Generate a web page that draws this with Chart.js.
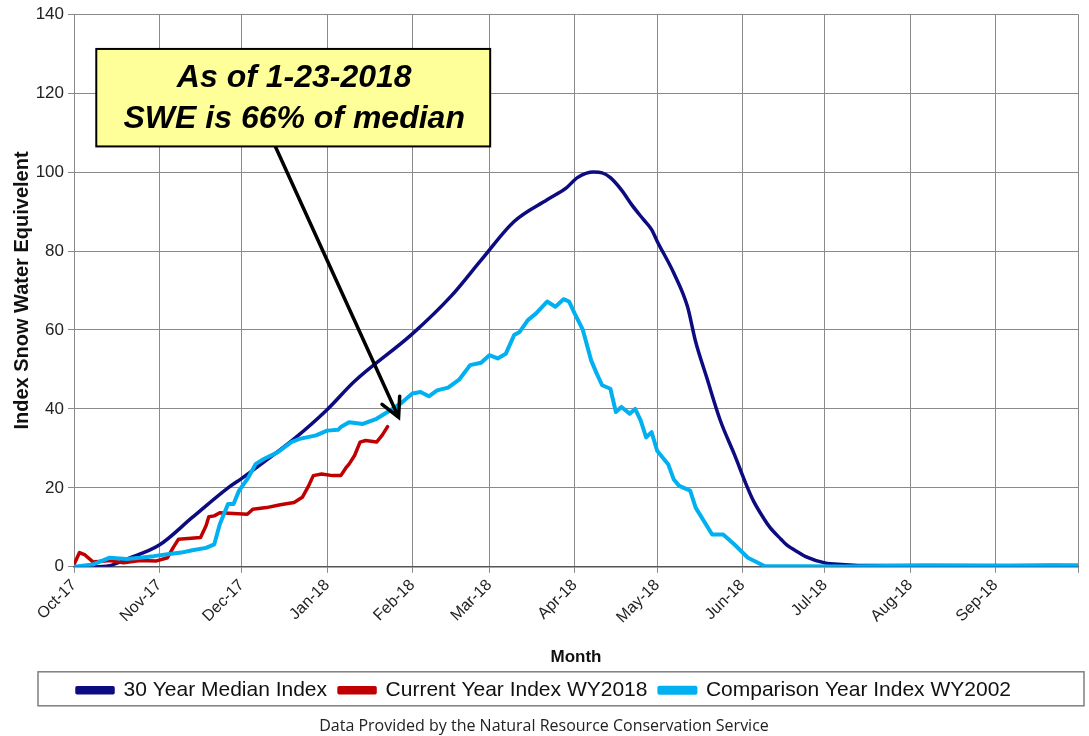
<!DOCTYPE html>
<html lang="en">
<head>
  <meta charset="UTF-8" />
  <title>Snow Water Equivalent Index</title>
  <script src="https://cdn.jsdelivr.net/npm/chart.js"></script>
  <style>
    html, body { margin: 0; padding: 0; background: #fff; }
    #wrap { width: 1089px; height: 736px; position: relative; }
  </style>
</head>
<body>
  <div id="wrap"><canvas id="sweChart"></canvas></div>

  <script>
    // month tick positions (days since Oct 1, 2017) and their labels
    const monthDays = [0, 31, 61, 92, 123, 151, 182, 212, 243, 273, 304, 335, 365];
    const monthLabels = ['Oct-17', 'Nov-17', 'Dec-17', 'Jan-18', 'Feb-18', 'Mar-18',
                         'Apr-18', 'May-18', 'Jun-18', 'Jul-18', 'Aug-18', 'Sep-18', ''];

    // 30 year median index
    const medianDay = [0, 7, 13, 19, 31, 43, 56, 61, 68, 80, 92, 102, 123, 137, 148, 160, 172, 179,
                       183, 189, 192, 195, 199, 203, 207, 210, 212, 218, 223, 226, 230, 235, 240,
                       245, 247, 251, 253, 257, 259, 264, 266, 273, 279, 290, 365];
    const medianSWE = [0, 0, 0.3, 1.9, 5.5, 12.5, 20, 22.4, 26, 32.4, 39.8, 47, 59, 68.5, 77.7, 87.5, 93, 96,
                       98.6, 100, 99.8, 98.6, 95.5, 91.5, 88, 85.4, 82.5, 74.5, 66, 57, 48, 37, 28.6,
                       19.8, 16.7, 12, 10, 7, 5.6, 3.4, 2.6, 1.0, 0.6, 0.3, 0.3];

    // current year WY2018 (through 1-23-2018)
    const currentDay = [0, 2, 4, 7, 13, 18, 24, 30, 34, 36, 38, 46, 48, 49, 51, 53, 58, 63, 65, 70,
                        75, 80, 83, 85, 87, 90, 94, 97, 99, 100, 102, 104, 106, 110, 112, 114];
    const currentSWE = [0.6, 3.6, 3, 1.2, 1.6, 1, 1.6, 1.5, 2.3, 4.8, 7, 7.4, 10.4, 12.7, 12.9, 13.7, 13.5, 13.3, 14.6, 15,
                        15.7, 16.3, 17.6, 20.1, 23.1, 23.5, 23.1, 23.1, 25.2, 26, 28.2, 31.6, 32, 31.6, 33.3, 35.5];

    // comparison year WY2002
    const compareDay = [0, 7, 13, 19, 24, 29, 34, 39, 43, 48, 51, 53, 56, 58, 60, 63, 66, 69, 74, 79,
                        82, 88, 92, 96, 97, 100, 105, 110, 114, 119, 123, 126, 129, 132, 136, 140, 144,
                        148, 151, 154, 157, 160, 162, 165, 168, 172, 175, 178, 180, 182, 185, 188, 190,
                        192, 195, 197, 199, 202, 204, 206, 208, 210, 212, 216, 218, 220, 224, 226, 232,
                        236, 240, 245, 251, 280, 310, 340, 355, 365];
    const compareSWE = [0, 0.6, 2.3, 2, 2.3, 2.7, 3.2, 3.6, 4.2, 4.8, 5.7, 10.8, 15.9, 15.9, 19.3, 22.2, 26, 27.3, 29, 31.6,
                        32.4, 33.3, 34.5, 34.7, 35.4, 36.6, 36.2, 37.5, 39.2, 41.5, 43.9, 44.3, 43.2, 44.7, 45.4, 47.4, 51.1,
                        51.7, 53.6, 52.8, 54, 58.7, 59.5, 62.5, 64.2, 67.2, 65.9, 67.8, 67.2, 64.2, 60, 52.3, 49,
                        46, 45.1, 39.2, 40.5, 38.8, 40, 37.1, 32.8, 34.1, 29.4, 26, 22.2, 20.5, 19.3, 15, 8.2,
                        8.2, 5.7, 2.3, 0.2, 0.1, 0.3, 0.2, 0.4, 0.3];

    const seriesNames = ['30 Year Median Index', 'Current Year Index WY2018', 'Comparison Year Index WY2002'];
    const seriesColors = ['#0c0c80', '#c00000', '#00b0f0'];

    const note = {
      lines: ['As of 1-23-2018', 'SWE is 66% of median'],
      box: { x0: 8.1, x1: 151.3, y0: 131.2, y1: 106.5 },
      arrowFrom: { x: 73.2, y: 106.5 },
      arrowTo: { x: 118, y: 37.9 }
    };

    const toPoints = (days, vals) => days.map((d, i) => ({ x: d, y: vals[i] }));
    const fam = '"Liberation Sans", Arial, sans-serif';

    const annotationPlugin = {
      id: 'noteBox',
      afterDatasetsDraw(chart) {
        const { ctx, scales: { x, y } } = chart;
        ctx.save();
        // arrow
        const ax = x.getPixelForValue(note.arrowFrom.x), ay = y.getPixelForValue(note.arrowFrom.y);
        const bx = x.getPixelForValue(note.arrowTo.x), by = y.getPixelForValue(note.arrowTo.y);
        ctx.strokeStyle = '#000';
        ctx.lineWidth = 3.5;
        ctx.lineCap = 'round';
        ctx.beginPath();
        ctx.moveTo(ax, ay);
        ctx.lineTo(bx, by);
        const ang = Math.atan2(by - ay, bx - ax);
        const head = 21;
        ctx.moveTo(bx - head * Math.cos(ang - 0.48), by - head * Math.sin(ang - 0.48));
        ctx.lineTo(bx, by);
        ctx.lineTo(bx - head * Math.cos(ang + 0.48), by - head * Math.sin(ang + 0.48));
        ctx.stroke();
        // box
        const l = x.getPixelForValue(note.box.x0), r = x.getPixelForValue(note.box.x1);
        const t = y.getPixelForValue(note.box.y0), b = y.getPixelForValue(note.box.y1);
        ctx.fillStyle = '#ffff99';
        ctx.fillRect(l, t, r - l, b - t);
        ctx.lineWidth = 2;
        ctx.strokeRect(l, t, r - l, b - t);
        ctx.fillStyle = '#000';
        ctx.font = 'italic bold 32px ' + fam;
        ctx.textAlign = 'center';
        ctx.textBaseline = 'middle';
        const cx = (l + r) / 2 + 1, h = b - t;
        ctx.fillText(note.lines[0], cx, t + h * 0.3);
        ctx.fillText(note.lines[1], cx, t + h * 0.72);
        ctx.restore();
      }
    };

    const legendFrame = {
      id: 'legendFrame',
      afterDraw(chart) {
        const lg = chart.legend;
        const ctx = chart.ctx;
        ctx.save();
        ctx.strokeStyle = '#7f7f7f';
        ctx.lineWidth = 1.5;
        ctx.strokeRect(38, lg.top + 4, 1046, lg.height - 9);
        ctx.restore();
      }
    };

    new Chart(document.getElementById('sweChart'), {
      type: 'line',
      data: {
        datasets: [
          { label: seriesNames[0], data: toPoints(medianDay, medianSWE), borderColor: seriesColors[0],
            backgroundColor: seriesColors[0], borderWidth: 3.5, cubicInterpolationMode: 'monotone', order: 2 },
          { label: seriesNames[1], data: toPoints(currentDay, currentSWE), borderColor: seriesColors[1],
            backgroundColor: seriesColors[1], borderWidth: 3.5, order: 1 },
          { label: seriesNames[2], data: toPoints(compareDay, compareSWE), borderColor: seriesColors[2],
            backgroundColor: seriesColors[2], borderWidth: 4, order: 0 }
        ]
      },
      options: {
        responsive: true,
        maintainAspectRatio: false,
        animation: false,
        layout: { padding: { top: 7, right: 11, left: 10, bottom: 0 } },
        elements: { point: { radius: 0 }, line: { tension: 0, borderJoinStyle: 'round', borderCapStyle: 'round' } },
        scales: {
          x: {
            type: 'linear',
            min: 0,
            max: 365,
            afterBuildTicks: (scale) => { scale.ticks = monthDays.map(v => ({ value: v })); },
            afterFit: (scale) => { scale.height = 101; scale.paddingRight = 0; },
            grid: { color: '#8a8a8a', lineWidth: 1, tickLength: 6 },
            border: { color: '#555', width: 1.5 },
            ticks: {
              autoSkip: false, maxRotation: 45, minRotation: 45, color: '#222', font: { family: fam, size: 16 },
              callback: (v) => monthLabels[monthDays.indexOf(v)]
            },
            title: { display: true, text: 'Month', color: '#111', padding: { top: 6, bottom: 0 },
                     font: { family: fam, size: 17, weight: 'bold' } }
          },
          y: {
            min: 0,
            max: 140,
            afterFit: (scale) => { scale.width = 64; },
            grid: { color: '#8a8a8a', lineWidth: 1, tickLength: 6 },
            border: { color: '#8a8a8a' },
            ticks: { stepSize: 20, color: '#222', font: { family: fam, size: 17 }, padding: 4 },
            title: { display: true, text: 'Index Snow Water Equivelent', color: '#111', padding: 0,
                     font: { family: fam, size: 20, weight: 'bold' } }
          }
        },
        plugins: {
          legend: {
            position: 'bottom',
            labels: {
              boxWidth: 36, boxHeight: 5, padding: 12, color: '#111',
              font: { family: fam, size: 21 },
              sort: (a, b) => a.datasetIndex - b.datasetIndex
            }
          },
          title: {
            display: true,
            position: 'bottom',
            text: 'Data Provided by the Natural Resource Conservation Service',
            color: '#222',
            font: { family: '"Open Sans", sans-serif', size: 16, weight: 'normal' },
            padding: { top: 6, bottom: 0 }
          },
          tooltip: { enabled: false }
        }
      },
      plugins: [annotationPlugin, legendFrame]
    });
  </script>
</body>
</html>
